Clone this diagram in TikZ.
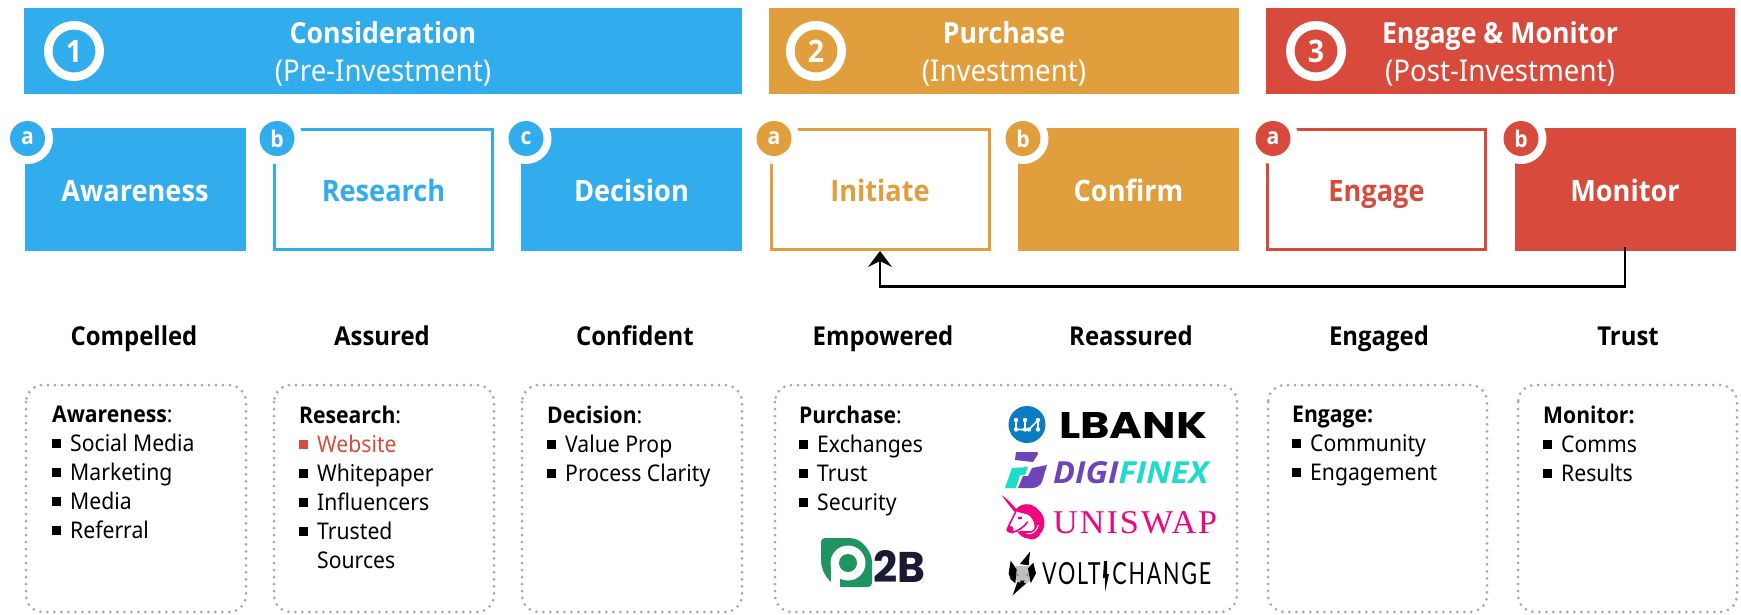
\documentclass[tikz,border=0pt]{standalone}
\usepackage{fontspec}
\usepackage{graphicx}
\setmainfont[FakeStretch=0.92]{Noto Sans}
\newfontfamily\hb[FakeStretch=0.92]{Open Sans}
\newfontfamily\lgb{Poppins}
\newfontfamily\lgd{Open Sans}
\newfontfamily\lgs{Liberation Serif}
\newfontfamily\lgv{Lato}
\definecolor{cblue}{HTML}{31ADEE}
\definecolor{corange}{HTML}{E19E3D}
\definecolor{cred}{HTML}{D84A3C}
\definecolor{cdot}{HTML}{A6A6A6}
\definecolor{dpurple}{HTML}{6E44B8}
\definecolor{dteal}{HTML}{1EDCCB}
\definecolor{upink}{HTML}{F0047F}
\definecolor{lbblue}{HTML}{0A7CC4}
\definecolor{pgreen}{HTML}{1F9460}
\definecolor{pnavy}{HTML}{1A1A33}
\newcommand{\fsz}[1]{\fontsize{#1}{#1}\selectfont}
\newcommand{\bul}[1]{\makebox[18pt][l]{\raisebox{3.5pt}{\rule{9pt}{9pt}}}#1}
\newcommand{\hd}[1]{{\hb\bfseries #1}}
\newcommand{\lgtxt}[3]{\resizebox{#1pt}{#2pt}{#3}}
\usetikzlibrary{arrows.meta}
\tikzset{
  x=1pt,y=-1pt,
  title/.style={font=\fsz{29}\hb\bfseries,text=white,inner sep=0pt,anchor=base},
  subtitle/.style={font=\fsz{30},text=white,inner sep=0pt,anchor=base},
  numring/.style={circle,draw=white,line width=8.5pt,minimum size=51.5pt,inner sep=0pt,text=white,font=\fsz{31}\hb\bfseries},
  solidbox/.style={rectangle,minimum width=221pt,minimum height=123pt,inner sep=0pt,fill=#1},
  openbox/.style={rectangle,minimum width=218pt,minimum height=120pt,inner sep=0pt,draw=#1,line width=3pt,fill=white},
  boxlabel/.style={font=\fsz{29.5}\hb\bfseries,text=#1,inner sep=0pt,anchor=base},
  letter/.style={circle,minimum size=35pt,inner sep=0pt,font=\fsz{23}\hb\bfseries,text=white,fill=#1},
  halo/.style={circle,minimum size=51pt,inner sep=0pt,fill=white},
  emotion/.style={font=\fsz{26}\hb\bfseries,text=black,inner sep=0pt,anchor=base},
  dotbox/.style={draw=cdot,line width=3pt,line cap=round,dash pattern=on 0pt off 7pt,rounded corners=17pt},
  list/.style={font=\fontsize{23}{29}\selectfont,text=black,inner sep=0pt,anchor=north west,align=left},
  link/.style={draw=black,line width=2.6pt,-{Stealth[length=16pt,width=24pt,inset=6pt]}},
}
\begin{document}
\begin{tikzpicture}
\useasboundingbox (0,0) rectangle (1741,614);
% header bars
\fill[cblue] (24,8) rectangle (742,94);
\fill[corange] (769,8) rectangle (1239,94);
\fill[cred] (1266,8) rectangle (1735,94);
\node[title] (t1) at (383,43) {Consideration};
\node[subtitle] (s1) at (383,81) {(Pre-Investment)};
\node[title] (t2) at (1004,43) {Purchase};
\node[subtitle] (s2) at (1004,81) {(Investment)};
\node[title] (t3) at (1500,43) {Engage \& Monitor};
\node[subtitle] (s3) at (1500,81) {(Post-Investment)};
\node[numring] (n1) at (74,51) {1};
\node[numring] (n2) at (816,51) {2};
\node[numring] (n3) at (1316,51) {3};
% step boxes
\node[solidbox=cblue] (aw) at (135,189.5) {};
\node[openbox=cblue] (re) at (383.5,189.5) {};
\node[solidbox=cblue] (de) at (631.5,189.5) {};
\node[openbox=corange] (in) at (880,189.5) {};
\node[solidbox=corange] (co) at (1128.5,189.5) {};
\node[openbox=cred] (en) at (1376.5,189.5) {};
\node[solidbox=cred] (mo) at (1625,189.5) {};
\node[boxlabel=white] (awl) at (135,201) {Awareness};
\node[boxlabel=cblue] (rel) at (383.5,201) {Research};
\node[boxlabel=white] (del) at (631.5,201) {Decision};
\node[boxlabel=corange] (inl) at (880,201) {Initiate};
\node[boxlabel=white] (col) at (1128.5,201) {Confirm};
\node[boxlabel=cred] (enl) at (1376.5,201) {Engage};
\node[boxlabel=white] (mol) at (1625,201) {Monitor};
% letter badges
\foreach \nm/\px/\cc/\tt in {la/27.5/cblue/a,lb/277/cblue/b,lc/526/cblue/c,ld/774/corange/a,le/1023/corange/b,lf/1273/cred/a,lg/1521/cred/b}{
  \node[halo] at (\px,138.5) {};
  \node[letter=\cc] (\nm) at (\px,138.5) {\tt};
}
% connector
\draw[link,shorten <=-4pt] (mo.south) -- ++(0,35) -| (in.south);
% emotions
\node[emotion] (e1) at (134,345) {Compelled};
\node[emotion] (e2) at (382,345) {Assured};
\node[emotion] (e3) at (635,345) {Confident};
\node[emotion] (e4) at (883,345) {Empowered};
\node[emotion] (e5) at (1131,345) {Reassured};
\node[emotion] (e6) at (1379,345) {Engaged};
\node[emotion] (e7) at (1628,345) {Trust};
% dotted boxes
\draw[dotbox] (26,385) rectangle (246,612);
\draw[dotbox] (274,385) rectangle (494,612);
\draw[dotbox] (522,385) rectangle (742,612);
\draw[dotbox] (775,385) rectangle (1237,612);
\draw[dotbox] (1268,385) rectangle (1487,612);
\draw[dotbox] (1518,385) rectangle (1737,612);
% lists
\node[list] (l1) at (52,406) {\hd{Awareness}:\\\bul{Social Media}\\\bul{Marketing}\\\bul{Media}\\\bul{Referral}};
\node[list] (l2) at (299,406) {\hd{Research}:\\{\color{cred}\bul{Website}}\\\bul{Whitepaper}\\\bul{Influencers}\\\bul{Trusted}\\\hspace*{18pt}Sources};
\node[list] (l3) at (547,406) {\hd{Decision}:\\\bul{Value Prop}\\\bul{Process Clarity}};
\node[list] (l4) at (799,406) {\hd{Purchase}:\\\bul{Exchanges}\\\bul{Trust}\\\bul{Security}};
\node[list] (l5) at (1292,406) {\hd{Engage:}\\\bul{Community}\\\bul{Engagement}};
\node[list] (l6) at (1543,406) {\hd{Monitor:}\\\bul{Comms}\\\bul{Results}};
% LBANK logo
\node[circle,fill=lbblue,minimum size=37pt,inner sep=0pt] (lbc) at (1027,424.5) {};
\draw[white,line width=1.6pt] (1016,420)--(1016,429.5)--(1025,429.5)--(1025,420) (1029,429.5)--(1038,420)--(1038,429.5);
\foreach \a/\b in {1016/420,1016/429.5,1025/420,1025/429.5,1029/429.5,1038/420,1038/429.5}{\fill[white] (\a,\b) circle (2.2pt);}
\node[inner sep=0pt,anchor=west] (lbt) at (1059,425) {\lgtxt{148}{26}{\lgb\bfseries LBANK}};
% DigiFinex logo
\fill[dpurple] (1016,452)--(1034,452)..controls (1037,452) and (1039,452) .. (1038,454)--(1033,462)--(1015,460)--cycle;
\fill[dteal] (1005,488)--(1012,468)--(1028,467)--(1025,475)--(1020,475)--(1016,488)--cycle;
\fill[dpurple] (1018,488)--(1023,476)--(1028,476)--(1032,468)--(1047,465)--(1042,482)..controls (1040,486) and (1036,488) .. (1032,488)--cycle;
\node[inner sep=0pt,anchor=west] (dft) at (1053,472.5) {\lgtxt{155}{22}{\lgd\bfseries\itshape{\color{dpurple}DIGI}{\color{dteal}FINEX}}};
% Uniswap logo
\begin{scope}[shift={(1000,490)},x=0.3333pt,y=-0.3333pt]
\fill[upink] (5,15) .. controls (25,30) and (40,45) .. (52,62) -- (46,68) .. controls (30,50) and (15,30) .. (5,15) -- cycle;
\fill[upink] (45,62) .. controls (60,38) and (95,35) .. (115,60) .. controls (135,75) and (140,110) .. (122,130) .. controls (115,145) and (100,152) .. (85,146) .. controls (70,145) and (58,135) .. (52,125) .. controls (70,118) and (95,130) .. (102,118) .. controls (108,100) and (95,72) .. (70,70) .. controls (60,68) and (52,66) .. (45,62) -- cycle;
\draw[upink,line width=1.6pt,line cap=round] (47,66) .. controls (38,85) and (32,95) .. (25,110) (35,128) .. controls (55,122) and (72,112) .. (82,96);
\fill[upink] (30,118) circle (3.6pt);
\fill[upink] (60,84) ellipse (2.4pt and 1.4pt);
\draw[white,line width=1pt] (80,130) .. controls (95,135) and (110,125) .. (115,105);
\end{scope}
\node[inner sep=0pt,anchor=west] (ust) at (1053,522.5) {\lgtxt{164}{22}{\lgs\addfontfeature{LetterSpace=6}\color{upink}UNISWAP}};
% Voltichange logo
\begin{scope}[shift={(1000,490)},x=0.3333pt,y=-0.3333pt]
\fill[black!25] (48,228) -- (88,228) -- (100,262) -- (70,290) -- (38,262) -- cycle;
\fill[black] (90,185) -- (60,222) -- (86,226) -- cycle;
\fill[black] (26,250) -- (32,212) -- (50,238) -- (46,280) -- (32,268) -- cycle;
\fill[black] (108,250) -- (100,218) -- (84,235) -- (92,280) -- cycle;
\fill[black] (78,280) -- (38,316) -- (52,276) -- cycle;
\fill[black] (60,272) -- (74,272) -- (67,284) -- cycle;
\fill[green!60!black!70] (52,255) circle (1.5pt) (82,255) circle (1.5pt);
\end{scope}
\node[inner sep=0pt,anchor=west] (vct) at (1042,574) {\lgtxt{169}{22}{\lgv\addfontfeature{LetterSpace=8}VOLT\hspace{.55em}CHANGE}};
\fill[black] (1104,561)--(1107,561)--(1107,574)--(1109,574)--(1105,592)--(1105,578)--(1103,578)--cycle;
% P2B logo
\fill[pgreen,rounded corners=4pt] (821,538)--(848,538)..controls (862,539) and (872,552) .. (872,566)--(872,587)--(838,587)..controls (827,580) and (821,570) .. (821,556)--cycle;
\fill[white] (848,563) circle (17.5pt);
\fill[white] (831,563) rectangle (840,587);
\fill[pgreen] (848,563) circle (9pt);
\node[inner sep=0pt,anchor=west] (p2b) at (873,566) {\lgtxt{52}{32}{\lgb\bfseries\color{pnavy}2B}};
\end{tikzpicture}
\end{document}
